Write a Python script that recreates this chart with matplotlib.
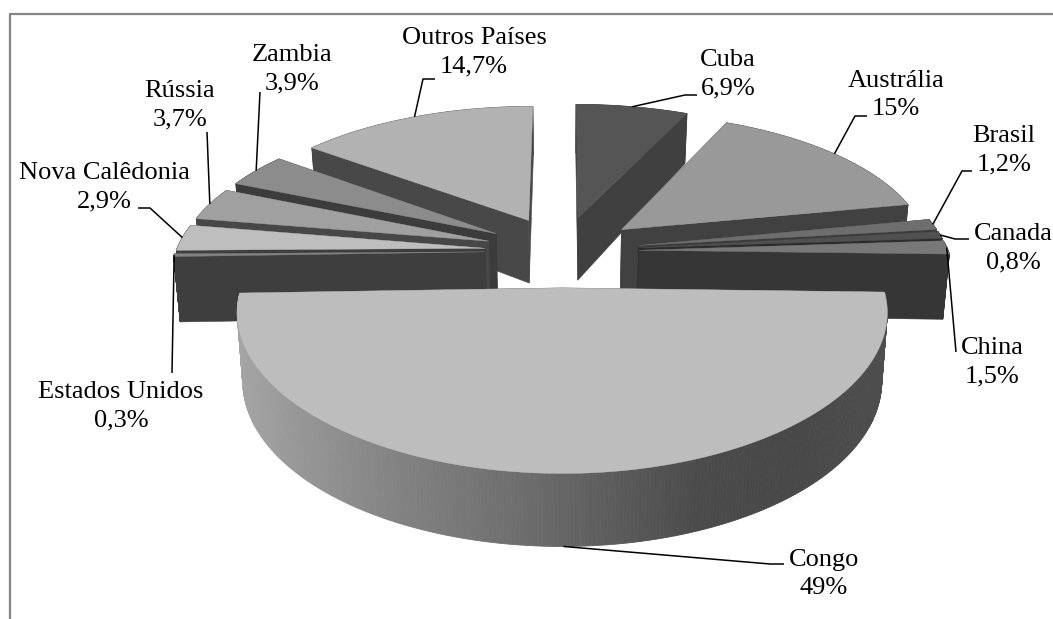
import matplotlib
matplotlib.use('Agg')
import matplotlib.pyplot as plt
from matplotlib.patches import Polygon
import numpy as np

# slices, clockwise from 12 o'clock
paises = ['Cuba', 'Austrália', 'Brasil', 'Canada', 'China', 'Congo', 'Estados Unidos',
          'Nova Calêdonia', 'Rússia', 'Zambia', 'Outros Países']
valores = [6.9, 15, 1.2, 0.8, 1.5, 49, 0.3, 2.9, 3.7, 3.9, 14.7]

# greys of top and cut faces
cor_topo = ['#555555', '#999999', '#6e6e6e', '#505050', '#787878', '#bdbdbd',
            '#828282', '#bebebe', '#a0a0a0', '#8c8c8c', '#b2b2b2']
cor_lado = ['#404040', '#414141', '#3c3c3c', '#2c2c2c', '#363636', '#555555',
            '#3e3e3e', '#3e3e3e', '#474747', '#3c3c3c', '#484848']

# label centre and leader elbow (None = straight leader)
pos_label = [(728, 74), (896, 95), (1004, 150), (1013, 248), (992, 362), (824, 574),
             (121, 406), (104, 187), (180, 105), (292, 69), (474, 52)]
cotovelo = [(685, 95), (855, 116), (962, 171), (955, 239), None, (770, 564), None, (150, 208),
            None, None, (423, 79)]
fim_linha = [(697, 95), (867, 116), (972, 171), (969, 239), (956, 352), (784, 564),
             (172, 373), (138, 208), (207, 132), (260, 92), (435, 79)]

# draw order, far to near
ordem = [10, 0, 9, 1, 8, 2, 7, 3, 6, 4, 5]

cx, cy = 562, 251
A, B = 309, 141.7
px, py_ = 0.15, 0.163
explode = 0.25


def proj(x, y, baixo=False):
    sx = cx + A * x / (1 + px * y)
    sy = cy - B * y / (1 + py_ * y)
    if baixo:
        sx = cx + (sx - cx) * 0.983
        sy = sy + 65 - 9.86 * y - 2.77 * y ** 2
    return sx, sy


fig = plt.figure(figsize=(10.53, 6.19), dpi=100)
ax = fig.add_axes([0, 0, 1, 1])
ax.set_xlim(0, 1053)
ax.set_ylim(619, 0)
ax.axis('off')

# frame
ax.plot([9.5, 9.5, 1053], [619, 14, 14], color='#868686', lw=1.6)

total = sum(valores)
fim = (np.cumsum(valores) / total * 360).tolist()
ini = [0] + fim[:-1]

ancora = {}
for i in ordem:
    a0, a1 = ini[i], fim[i]
    meio = np.radians((a0 + a1) / 2)
    ox, oy = explode * np.sin(meio), explode * np.cos(meio)
    ang = np.radians(np.linspace(a0, a1, 300 if i == 5 else 40))
    xs, ys = np.sin(ang) + ox, np.cos(ang) + oy

    # cut faces
    for xe, ye in [(xs[0], ys[0]), (xs[-1], ys[-1])]:
        face = [proj(ox, oy), proj(xe, ye), proj(xe, ye, True), proj(ox, oy, True)]
        ax.add_patch(Polygon(face, closed=True, fc=cor_lado[i], ec=cor_lado[i], lw=0.4))

    # rim, shaded along screen x for the big slice
    for k in range(len(xs) - 1):
        quad = [proj(xs[k], ys[k]), proj(xs[k + 1], ys[k + 1]),
                proj(xs[k + 1], ys[k + 1], True), proj(xs[k], ys[k], True)]
        if i == 5:
            g = np.interp(quad[0][0], [236, 300, 400, 520, 600, 700, 800, 889],
                          [165, 150, 130, 110, 95, 75, 72, 78]) / 255
            c = (g, g, g)
        else:
            c = cor_lado[i]
        ax.add_patch(Polygon(quad, closed=True, fc=c, ec=c, lw=0.6))

    # top face
    topo = [proj(ox, oy)] + [proj(x, y) for x, y in zip(xs, ys)]
    ax.add_patch(Polygon(topo, closed=True, fc=cor_topo[i], ec=cor_topo[i], lw=0.3))

    xm, ym = np.sin(meio) + ox, np.cos(meio) + oy
    ancora[i] = proj(xm, ym, i == 5)

# leaders and labels
for i, nome in enumerate(paises):
    lx = [ancora[i][0]]
    ly = [ancora[i][1]]
    if cotovelo[i] is not None:
        lx.append(cotovelo[i][0])
        ly.append(cotovelo[i][1])
    lx.append(fim_linha[i][0])
    ly.append(fim_linha[i][1])
    ax.plot(lx, ly, color='black', lw=1.1, solid_capstyle='butt', zorder=5)
    txt = nome + '\n' + f'{valores[i]:g}'.replace('.', ',') + '%'
    ax.text(pos_label[i][0], pos_label[i][1], txt, ha='center', va='center', multialignment='center',
            family='Liberation Serif', fontsize=19, linespacing=1.38, color='black', zorder=6)

fig.savefig('out.png', dpi=100)
